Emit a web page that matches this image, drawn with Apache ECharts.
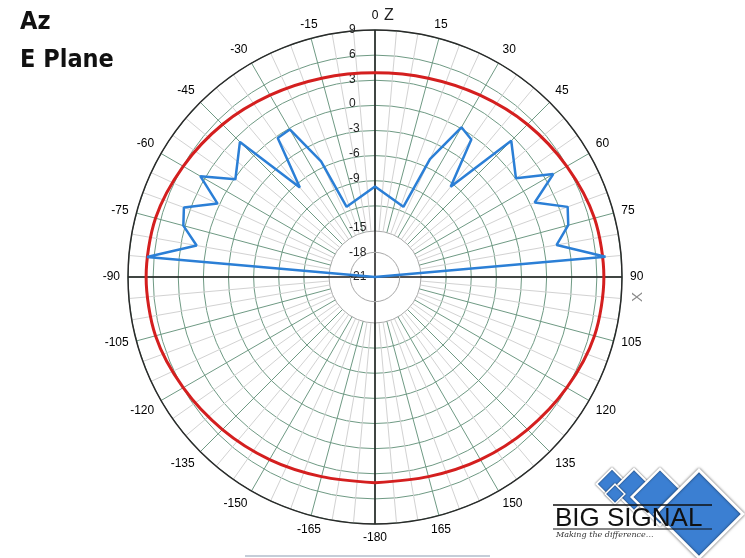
<!DOCTYPE html>
<html>
<head>
<meta charset="utf-8">
<script src="https://cdn.jsdelivr.net/npm/echarts@6/dist/echarts.min.js"></script>
<style>
html,body{margin:0;padding:0;background:#fff;}
#chart{width:745px;height:558px;}
</style>
</head>
<body>
<div id="chart"></div>
<script>
// ---- data ----
var bluePatternAngles = [-90, -85, -80, -75, -70, -65, -60, -55, -45, -40, -35, -30, -25, -22, 0, 22, 25, 30, 35, 40, 45, 55, 60, 65, 70, 75, 80, 85, 90];
var bluePatternValues = [-21, 6.8, 1.0, 3.1, 3.7, 0.1, 3.5, -0.3, 2.2, -6.8, -0.4, -0.3, -5.5, -11.8, -10, -11.8, -5.2, 0.0, -0.6, -6.7, 2.4, -0.1, 4.0, 0.4, 3.9, 3.3, 1.4, 7.1, -21];
var redPatternAngles = [-180, -165, -150, -135, -120, -105, -90, -75, -60, -45, -30, -15, 0, 15, 30, 45, 60, 75, 90, 105, 120, 135, 150, 165, 180];
var redPatternValues = [4.0, 4.1, 4.6, 5.2, 5.9, 6.6, 6.8, 6.6, 5.9, 5.2, 4.5, 4.0, 3.8, 4.0, 4.5, 5.2, 5.9, 6.6, 6.8, 6.6, 5.9, 5.2, 4.6, 4.1, 4.0];
var radiusTicks = [-21, -18, -15, -12, -9, -6, -3, 0, 3, 6, 9];
var hiddenRadiusLabels = [-12];
var angleTickStep = 15;
var titleLines = ['Az', 'E Plane'];

function pairs(angles, values) {
  return angles.map(function (a, i) { return [values[i], a]; });
}
// bearing label: 0..360 measured clockwise from top -> signed degrees
function signedLabel(v) {
  v = +v;
  if (v === 180) return '-180';
  return String(v > 180 ? v - 360 : v);
}

var chart = echarts.init(document.getElementById('chart'), null, {renderer: 'canvas'});
var C = [375, 277];
var R = 247;
var green = '#6f9a84';
var clear = 'rgba(0,0,0,0)';

var option = {
  backgroundColor: '#fff',
  animation: false,
  polar: [
    {center: C, radius: [46, R]},
    {center: C, radius: [0, R]},
    {center: C, radius: [0, R]}
  ],
  angleAxis: [
    { // grid
      polarIndex: 0, type: 'value', min: -180, max: 180, interval: angleTickStep, startAngle: -90, clockwise: true, z: 0,
      axisLine: {show: false}, axisTick: {show: false}, axisLabel: {show: false},
      splitLine: {show: true, lineStyle: {color: green, width: 1}},
      minorTick: {show: false, splitNumber: 3},
      minorSplitLine: {show: true, lineStyle: {color: '#d2d2d2', width: 1}}
    },
    { // labels + outer circle
      polarIndex: 1, type: 'value', min: 0, max: 360, interval: angleTickStep, startAngle: 90, clockwise: true, z: 3,
      axisLine: {show: true, lineStyle: {color: '#2a2a2a', width: 1.5}},
      axisTick: {show: false},
      splitLine: {show: false},
      axisLabel: {show: true, margin: 8, fontSize: 12, fontFamily: 'Liberation Sans, Arial, sans-serif',
        formatter: signedLabel,
        color: function (v) { return (+v === 90) ? '#8a8a8a' : '#222'; }}
    },
    { // cross + data
      polarIndex: 2, type: 'value', min: -180, max: 180, interval: 90, startAngle: -90, clockwise: true, z: 2,
      axisLine: {show: false}, axisTick: {show: false}, axisLabel: {show: false},
      splitLine: {show: true, lineStyle: {color: '#1a1a1a', width: 1.5}}
    }
  ],
  radiusAxis: [
    {
      polarIndex: 0, type: 'value', min: -15, max: 9, interval: 3, z: 0,
      axisLine: {show: false}, axisTick: {show: false}, axisLabel: {show: false},
      splitLine: {show: true, lineStyle: {color: ['#a8a8a8', green, green, green, green, green, green, green, green], width: 1}}
    },
    {
      polarIndex: 1, type: 'value', min: radiusTicks[0], max: radiusTicks[radiusTicks.length - 1], interval: 3, z: 3,
      axisLine: {show: false}, axisTick: {show: false},
      axisLabel: {show: true, fontSize: 12, color: '#222', fontFamily: 'Liberation Sans, Arial, sans-serif', align: 'left', margin: 26,
        formatter: function (v) { return hiddenRadiusLabels.indexOf(+v) >= 0 ? '' : String(v); }},
      splitLine: {show: true, lineStyle: {color: [clear, '#a8a8a8', clear, clear, clear, clear, clear, clear, clear, clear, clear], width: 1}}
    },
    {
      polarIndex: 2, type: 'value', min: radiusTicks[0], max: radiusTicks[radiusTicks.length - 1], z: 2,
      axisLine: {show: false}, axisTick: {show: false}, axisLabel: {show: false}, splitLine: {show: false}
    }
  ],
  series: [
    {
      type: 'line', coordinateSystem: 'polar', polarIndex: 2, z: 5,
      data: pairs(redPatternAngles, redPatternValues),
      smooth: 0.3, symbol: 'none',
      lineStyle: {color: '#d41f1f', width: 3}
    },
    {
      type: 'line', coordinateSystem: 'polar', polarIndex: 2, z: 6,
      data: pairs(bluePatternAngles, bluePatternValues),
      symbol: 'none',
      lineStyle: {color: '#2b7fd6', width: 2.5}
    }
  ],
  graphic: [
    {type: 'text', left: 20, top: 10, style: {text: titleLines[0], font: 'bold 25px "DejaVu Sans Condensed", "Liberation Sans Narrow", sans-serif', fill: '#111'}},
    {type: 'text', left: 20, top: 48, style: {text: titleLines[1], font: 'bold 25px "DejaVu Sans Condensed", "Liberation Sans Narrow", sans-serif', fill: '#111'}},
    {type: 'text', x: 384, y: 8, style: {text: 'Z', font: '16px "Liberation Sans", Arial, sans-serif', fill: '#222'}},
    {type: 'text', x: 630, y: 302, rotation: Math.PI / 2, style: {text: 'X', font: '15px "Liberation Sans", Arial, sans-serif', fill: '#8a8a8a'}},
    {type: 'line', shape: {x1: 245, y1: 556, x2: 490, y2: 556}, style: {stroke: '#c5cdd8', lineWidth: 2}},
    // logo
    {type: 'group', z: 10, children: [
      {type: 'rect', x: 612, y: 484, shape: {x: -11, y: -11, width: 22, height: 22}, rotation: Math.PI / 4, style: {fill: '#3b7fd2', stroke: '#fff', lineWidth: 2, shadowColor: 'rgba(0,0,0,0.6)', shadowBlur: 2}},
      {type: 'rect', x: 634, y: 490, shape: {x: -15, y: -15, width: 30, height: 30}, rotation: Math.PI / 4, style: {fill: '#3b7fd2', stroke: '#fff', lineWidth: 2, shadowColor: 'rgba(0,0,0,0.6)', shadowBlur: 2}},
      {type: 'rect', x: 660, y: 497, shape: {x: -20, y: -20, width: 40, height: 40}, rotation: Math.PI / 4, style: {fill: '#3b7fd2', stroke: '#fff', lineWidth: 2.5, shadowColor: 'rgba(0,0,0,0.6)', shadowBlur: 2}},
      {type: 'rect', x: 699, y: 514, shape: {x: -31, y: -31, width: 62, height: 62}, rotation: Math.PI / 4, style: {fill: '#3b7fd2', stroke: '#fff', lineWidth: 3, shadowColor: 'rgba(0,0,0,0.6)', shadowBlur: 3}},
      {type: 'rect', x: 615, y: 494, shape: {x: -7, y: -7, width: 14, height: 14}, rotation: Math.PI / 4, style: {fill: '#3b7fd2', stroke: '#fff', lineWidth: 1.5, shadowColor: 'rgba(0,0,0,0.6)', shadowBlur: 2}},
      {type: 'line', shape: {x1: 553, y1: 505, x2: 712, y2: 505}, style: {stroke: '#111', lineWidth: 1.5}},
      {type: 'line', shape: {x1: 553, y1: 529, x2: 712, y2: 529}, style: {stroke: '#111', lineWidth: 1}},
      {type: 'text', x: 555, y: 506, style: {text: 'BIG SIGNAL', font: '26px "Liberation Sans", Arial, sans-serif', fill: '#111'}},
      {type: 'text', x: 556, y: 531, style: {text: 'Making the difference...', font: 'italic 8px "DejaVu Serif", serif', fill: '#333'}}
    ]}
  ]
};
chart.setOption(option);
</script>
</body>
</html>
